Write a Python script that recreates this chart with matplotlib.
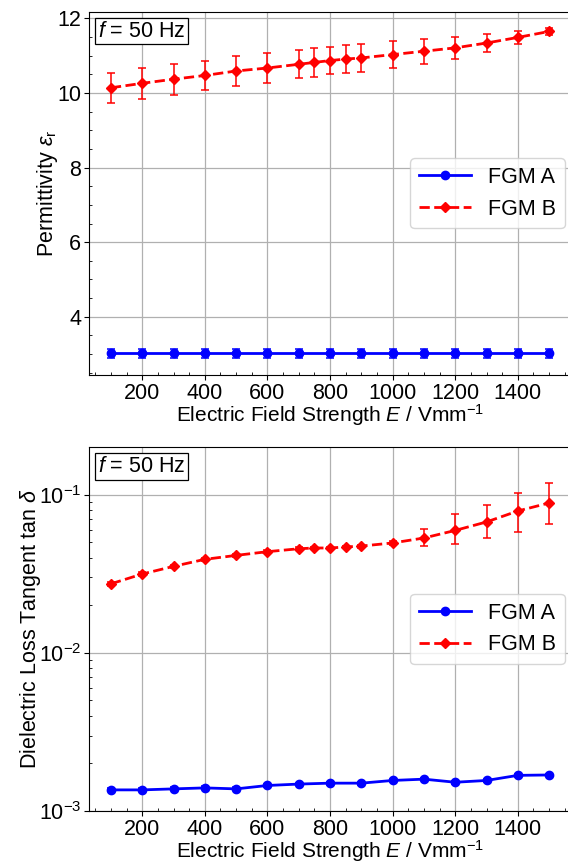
import matplotlib
matplotlib.use("Agg")
import matplotlib.pyplot as plt
from matplotlib.ticker import MultipleLocator
from matplotlib.offsetbox import AnchoredText

plt.rcParams['font.family'] = ['Liberation Sans', 'DejaVu Sans']
plt.rcParams['mathtext.fontset'] = 'custom'
plt.rcParams['mathtext.rm'] = 'Liberation Sans'
plt.rcParams['mathtext.it'] = 'Liberation Sans:italic'
plt.rcParams['font.size'] = 15.5

FS = 15.5

# field strength (V/mm)
field_a = [100, 200, 300, 400, 500, 600, 700, 800, 900, 1000, 1100, 1200, 1300, 1400, 1500]
field_b = [100, 200, 300, 400, 500, 600, 700, 750, 800, 850, 900, 1000, 1100, 1200, 1300, 1400, 1500]

# permittivity
eps_a = [3.02] * 15
eps_a_err = [0.12] * 15
eps_b = [10.14, 10.26, 10.37, 10.47, 10.59, 10.67, 10.77, 10.82, 10.87, 10.91, 10.94,
         11.03, 11.12, 11.21, 11.34, 11.49, 11.65]
eps_b_err = [0.40, 0.41, 0.42, 0.40, 0.40, 0.39, 0.38, 0.38, 0.37, 0.38, 0.37,
             0.36, 0.34, 0.29, 0.24, 0.17, 0.10]

# loss tangent
tan_a = [1.36e-3, 1.36e-3, 1.38e-3, 1.40e-3, 1.38e-3, 1.45e-3, 1.48e-3, 1.50e-3,
         1.50e-3, 1.56e-3, 1.59e-3, 1.52e-3, 1.56e-3, 1.68e-3, 1.69e-3]
tan_a_err = [3e-5] * 15
tan_b = [0.0273, 0.0315, 0.0352, 0.0390, 0.0413, 0.0436, 0.0455, 0.0460, 0.0460,
         0.0467, 0.0473, 0.0495, 0.0532, 0.0594, 0.0672, 0.0788, 0.0886]
tan_b_lo = [0.0008, 0.0008, 0.0008, 0.0008, 0.0008, 0.0009, 0.0009, 0.0009, 0.0009,
            0.0009, 0.0010, 0.0012, 0.0061, 0.0106, 0.0143, 0.0205, 0.0237]
tan_b_hi = [0.0008, 0.0008, 0.0008, 0.0008, 0.0008, 0.0009, 0.0009, 0.0009, 0.0009,
            0.0009, 0.0010, 0.0012, 0.0077, 0.0156, 0.0189, 0.0242, 0.0300]


def style_axes(ax):
    ax.grid(True, which='major', color='#b0b0b0', linewidth=0.9)
    ax.set_axisbelow(True)
    ax.xaxis.set_major_locator(MultipleLocator(200))
    ax.xaxis.set_minor_locator(MultipleLocator(50))
    ax.tick_params(which='major', direction='out', length=3.5, labelsize=FS, pad=2)
    ax.tick_params(which='minor', direction='in', length=2.5)
    ax.set_xlim(30, 1570)
    ax.set_xlabel(r'Electric Field Strength $E$ / Vmm$^{-1}$', fontsize=15, labelpad=-1)
    at = AnchoredText(r'$f$ = 50 Hz', loc='upper left', prop=dict(size=FS),
                      pad=0.12, borderpad=0.3)
    at.patch.set_boxstyle('square,pad=0')
    at.patch.set_linewidth(0.9)
    ax.add_artist(at)
    ax.legend(loc='center right', fontsize=FS, handlelength=2.4, borderaxespad=0.3)


fig = plt.figure(figsize=(5.68, 8.66), dpi=100)
ax1 = fig.add_axes([0.1567, 0.567, 0.8486, 0.4195])
ax2 = fig.add_axes([0.1567, 0.0635, 0.8486, 0.4203])

# permittivity
ax1.errorbar(field_a, eps_a, yerr=eps_a_err, fmt='none', ecolor='b',
             elinewidth=1.1, capsize=3, capthick=1.1)
ax1.errorbar(field_b, eps_b, yerr=eps_b_err, fmt='none', ecolor='r',
             elinewidth=1.1, capsize=3, capthick=1.1)
ax1.plot(field_a, eps_a, 'b-', marker='o', ms=6, lw=2, label='FGM A')
ax1.plot(field_b, eps_b, 'r--', marker='D', ms=5.5, lw=2, label='FGM B')
ax1.set_ylim(2.44, 12.18)
ax1.yaxis.set_major_locator(MultipleLocator(2))
ax1.yaxis.set_minor_locator(MultipleLocator(0.5))
ax1.set_ylabel(r'Permittivity $\varepsilon_\mathrm{r}$', fontsize=FS, labelpad=-2)
style_axes(ax1)

# loss tangent
ax2.errorbar(field_a, tan_a, yerr=tan_a_err, fmt='none', ecolor='b',
             elinewidth=1.1, capsize=3, capthick=1.1)
ax2.errorbar(field_b, tan_b, yerr=[tan_b_lo, tan_b_hi], fmt='none', ecolor='r',
             elinewidth=1.1, capsize=3, capthick=1.1)
ax2.plot(field_a, tan_a, 'b-', marker='o', ms=6, lw=2, label='FGM A')
ax2.plot(field_b, tan_b, 'r--', marker='D', ms=5.5, lw=2, label='FGM B')
ax2.set_yscale('log')
ax2.set_ylim(1e-3, 0.2)
ax2.set_ylabel(r'Dielectric Loss Tangent tan $\delta$', fontsize=FS, labelpad=-3)
style_axes(ax2)

fig.savefig('out.png', dpi=100)
